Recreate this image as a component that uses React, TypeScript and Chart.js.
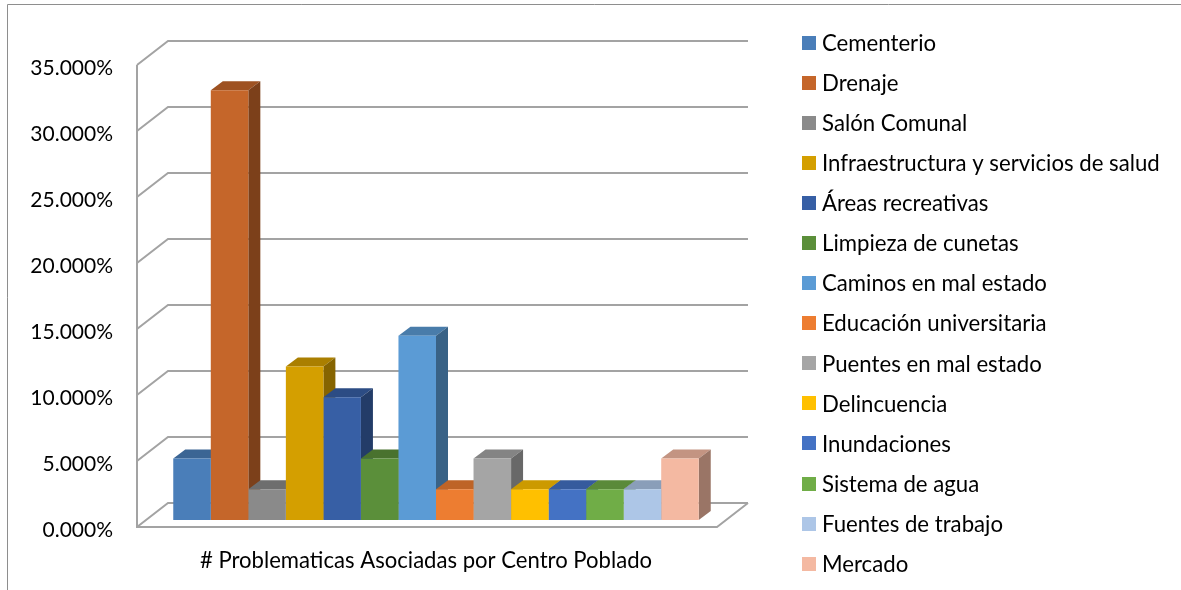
import { useEffect, useRef } from 'react';
import { Chart, registerables } from 'chart.js';

Chart.register(...registerables);

const categories = ['# Problematicas Asociadas por Centro Poblado'];
const seriesNames = [
  'Cementerio',
  'Drenaje',
  'Salón Comunal',
  'Infraestructura y servicios de salud',
  'Áreas recreativas',
  'Limpieza de cunetas',
  'Caminos en mal estado',
  'Educación universitaria',
  'Puentes en mal estado',
  'Delincuencia',
  'Inundaciones',
  'Sistema de agua',
  'Fuentes de trabajo',
  'Mercado',
];
const seriesValues = [4.651, 32.558, 2.326, 11.628, 9.302, 4.651, 13.953, 2.326, 4.651, 2.326, 2.326, 2.326, 2.326, 4.651];
const seriesColors = [
  '#4A7EB9', '#C5662A', '#8A8A8A', '#D49F00', '#375FA5', '#5B8F3A', '#5B9BD5',
  '#ED7D31', '#A5A5A5', '#FFC000', '#4472C4', '#70AD47', '#ADC6E7', '#F4B9A2',
];
const yTickValues = [0, 5, 10, 15, 20, 25, 30, 35];

const FONT = 'Lato';
const W = 1181;
const H = 590;

function fitSize(text: string, width: number, weight = 'normal') {
  const c = document.createElement('canvas').getContext('2d')!;
  c.font = `${weight} 100px ${FONT}`;
  return Math.round((1000 * width) / c.measureText(text).width) / 10;
}

function shade(hex: string, f: number) {
  const n = parseInt(hex.slice(1), 16);
  const r = Math.round(((n >> 16) & 255) * f);
  const g = Math.round(((n >> 8) & 255) * f);
  const b = Math.round((n & 255) * f);
  return `rgb(${r},${g},${b})`;
}

// 3D geometry offsets relative to the bar plane
const FRONT = { dx: -9, dy: 7 };
const BACK = { dx: 22, dy: -17 };
const BAR_DEPTH = { dx: 12, dy: -9 };
const GRID_COLOR = '#A3A3A3';

export default function App() {
  const ref = useRef<HTMLCanvasElement | null>(null);

  useEffect(() => {
    const canvas = ref.current!;
    const yFont = fitSize('35.000%', 82.5);
    const xFont = fitSize(categories[0], 452);
    const legendFont = fitSize(seriesNames[3], 338);

    const walls = {
      id: 'walls3d',
      beforeDraw(chart: any) {
        const ctx = chart.ctx;
        ctx.save();
        ctx.strokeStyle = '#8E8E8E';
        ctx.lineWidth = 1;
        ctx.beginPath();
        ctx.moveTo(7.5, H + 5);
        ctx.lineTo(7.5, 4.5);
        ctx.lineTo(W + 5, 4.5);
        ctx.stroke();
        ctx.restore();
      },
      beforeDatasetsDraw(chart: any) {
        const ctx = chart.ctx;
        const area = chart.chartArea;
        const ys = chart.scales.y;
        ctx.save();
        ctx.strokeStyle = GRID_COLOR;
        ctx.lineWidth = 2;
        ctx.lineJoin = 'miter';
        const fx = area.left + FRONT.dx;
        const bx = area.left + BACK.dx;
        const bxr = area.right + BACK.dx;
        yTickValues.forEach((v) => {
          const py = ys.getPixelForValue(v);
          ctx.beginPath();
          ctx.moveTo(fx, py + FRONT.dy);
          ctx.lineTo(bx, py + BACK.dy);
          ctx.lineTo(bxr, py + BACK.dy);
          ctx.stroke();
        });
        const p0 = ys.getPixelForValue(0);
        const pTop = ys.getPixelForValue(yTickValues[yTickValues.length - 1]);
        // front-left vertical edge
        ctx.beginPath();
        ctx.moveTo(fx, pTop + FRONT.dy);
        ctx.lineTo(fx, p0 + FRONT.dy);
        // floor front and right edges
        ctx.lineTo(area.right + FRONT.dx, p0 + FRONT.dy);
        ctx.lineTo(bxr, p0 + BACK.dy);
        ctx.stroke();

        // depth faces of bars (tops and sides), drawn left to right
        chart.data.datasets.forEach((ds: any, i: number) => {
          const meta = chart.getDatasetMeta(i);
          const bar = meta.data[0];
          if (!bar) return;
          const { x, y, base, width } = bar.getProps(['x', 'y', 'base', 'width'], true);
          const l = x - width / 2;
          const r = x + width / 2;
          const col = ds.backgroundColor as string;
          ctx.fillStyle = shade(col, 0.8);
          ctx.beginPath();
          ctx.moveTo(l, y);
          ctx.lineTo(r, y);
          ctx.lineTo(r + BAR_DEPTH.dx, y + BAR_DEPTH.dy);
          ctx.lineTo(l + BAR_DEPTH.dx, y + BAR_DEPTH.dy);
          ctx.closePath();
          ctx.fill();
          ctx.fillStyle = shade(col, 0.63);
          ctx.beginPath();
          ctx.moveTo(r, y);
          ctx.lineTo(r + BAR_DEPTH.dx, y + BAR_DEPTH.dy);
          ctx.lineTo(r + BAR_DEPTH.dx, base + BAR_DEPTH.dy);
          ctx.lineTo(r, base);
          ctx.closePath();
          ctx.fill();
        });
        ctx.restore();
      },
      afterDraw(chart: any) {
        const ctx = chart.ctx;
        ctx.save();
        ctx.font = `${legendFont}px ${FONT}`;
        ctx.textBaseline = 'middle';
        ctx.textAlign = 'left';
        chart.data.datasets.forEach((ds: any, i: number) => {
          const cy = 42.7 + i * 40.08;
          ctx.fillStyle = ds.backgroundColor;
          ctx.fillRect(802, Math.round(cy - 7), 14, 14);
          ctx.fillStyle = '#000000';
          ctx.fillText(ds.label, 822, cy + 1);
        });
        ctx.restore();
      },
    };

    const chart = new Chart(canvas, {
      type: 'bar',
      data: {
        labels: categories,
        datasets: seriesNames.map((name, i) => ({
          label: name,
          data: [seriesValues[i]],
          backgroundColor: seriesColors[i],
          borderWidth: 0,
          categoryPercentage: 0.906,
          barPercentage: 1,
        })),
      },
      options: {
        animation: false,
        responsive: false,
        devicePixelRatio: 1,
        layout: { padding: { top: 58, right: W - 726, bottom: 0, left: 0 } },
        plugins: {
          legend: { display: false },
          tooltip: { enabled: false },
          title: { display: false },
        },
        scales: {
          x: {
            grid: { display: false, drawTicks: false },
            border: { display: false },
            ticks: {
              color: '#000000',
              font: { family: FONT, size: xFont },
              padding: 28,
              labelOffset: -10,
              maxRotation: 0,
            },
            afterFit: (s: any) => {
              s.height = 70;
            },
          },
          y: {
            min: 0,
            max: 35,
            grid: { display: false, drawTicks: false },
            border: { display: false },
            ticks: {
              stepSize: 5,
              color: '#000000',
              font: { family: FONT, size: yFont },
              padding: 33,
              labelOffset: 10,
              callback: (v: any) => Number(v).toFixed(3) + '%',
            },
            afterFit: (s: any) => {
              s.width = 146;
            },
          },
        },
      },
      plugins: [walls],
    });
    return () => chart.destroy();
  }, []);

  return (
    <div style={{ position: 'fixed', left: 0, top: 0, width: W, height: H, background: '#ffffff' }}>
      <canvas ref={ref} width={W} height={H} style={{ display: 'block', width: W, height: H }} />
    </div>
  );
}
